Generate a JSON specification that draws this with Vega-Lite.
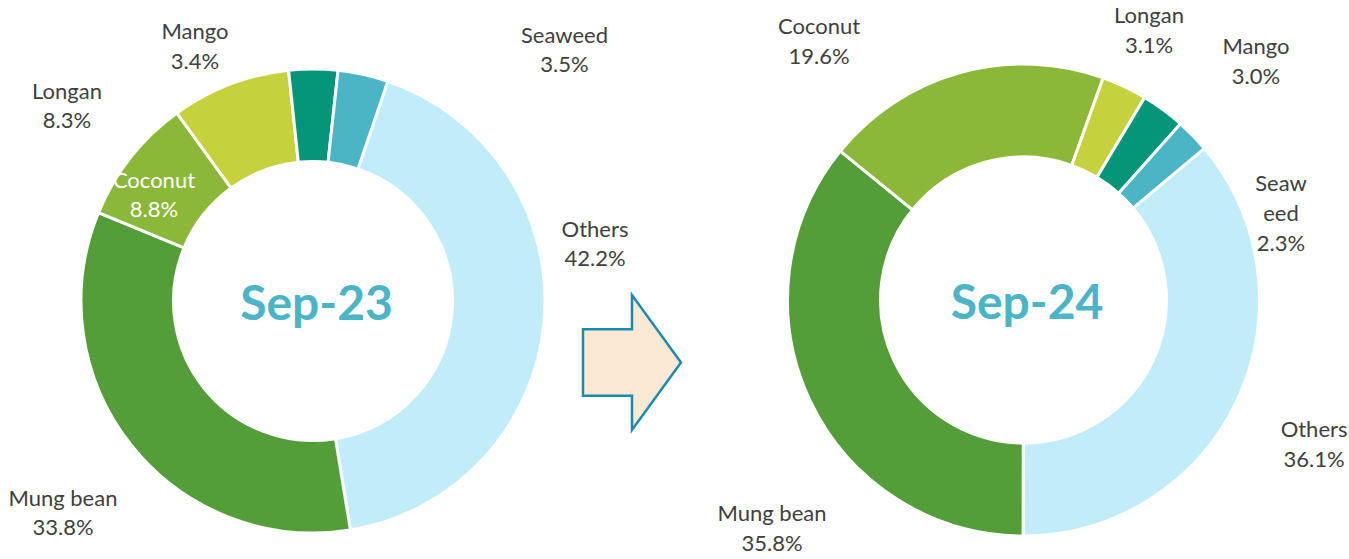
{
  "$schema": "https://vega.github.io/schema/vega-lite/v6.json",
  "width": 1349,
  "height": 559,
  "padding": 0,
  "autosize": {"type": "none"},
  "background": "#ffffff",
  "config": {
    "view": {"stroke": null},
    "text": {"font": "Lato", "fontSize": 22}
  },
  "data": {
    "values": [
      {"period": "Sep-23", "name": "Others", "share": 0.422, "rank": 1},
      {"period": "Sep-23", "name": "Mung bean", "share": 0.338, "rank": 2},
      {"period": "Sep-23", "name": "Coconut", "share": 0.088, "rank": 3},
      {"period": "Sep-23", "name": "Longan", "share": 0.083, "rank": 4},
      {"period": "Sep-23", "name": "Mango", "share": 0.034, "rank": 5},
      {"period": "Sep-23", "name": "Seaweed", "share": 0.035, "rank": 6},
      {"period": "Sep-24", "name": "Others", "share": 0.361, "rank": 1},
      {"period": "Sep-24", "name": "Mung bean", "share": 0.358, "rank": 2},
      {"period": "Sep-24", "name": "Coconut", "share": 0.196, "rank": 3},
      {"period": "Sep-24", "name": "Longan", "share": 0.031, "rank": 4},
      {"period": "Sep-24", "name": "Mango", "share": 0.030, "rank": 5},
      {"period": "Sep-24", "name": "Seaweed", "share": 0.023, "rank": 6}
    ]
  },
  "layer": [
    {
      "transform": [{"filter": {"field": "period", "equal": "Sep-23"}}],
      "layer": [
        {
          "encoding": {
            "theta": {"field": "share", "type": "quantitative", "stack": true, "scale": {"range": [0.3281, 6.6113]}},
            "order": {"field": "rank", "type": "quantitative"},
            "color": {
              "field": "name", "type": "nominal", "legend": null,
              "scale": {"domain": ["Others", "Mung bean", "Coconut", "Longan", "Mango", "Seaweed"],
                        "range": ["#C1ECFA", "#549E39", "#8CB83A", "#C5D13D", "#05967A", "#4BB5C6"]}
            }
          },
          "layer": [
            {"mark": {"type": "arc", "outerRadius": 232, "innerRadius": 139.5, "stroke": "#ffffff", "strokeWidth": 3, "xOffset": -361.5, "yOffset": 21.5}},
            {"mark": {"type": "text", "radius": 280.8, "thetaOffset": -0.4351, "xOffset": -361.5, "yOffset": 21.5, "dy": -13.9},
             "encoding": {"color": {"value": "#404040"}, "text": {"condition": {"test": "datum.name === 'Mango'", "field": "name", "type": "nominal"}, "value": ""}}},
            {"mark": {"type": "text", "radius": 280.8, "thetaOffset": -0.4351, "xOffset": -361.5, "yOffset": 21.5, "dy": 15.7},
             "encoding": {"color": {"value": "#404040"}, "text": {"condition": {"test": "datum.name === 'Mango'", "field": "share", "type": "quantitative", "format": ".1%"}, "value": ""}}},
            {"mark": {"type": "text", "radius": 355.7, "thetaOffset": 0.5672, "xOffset": -361.5, "yOffset": 21.5, "dy": -13.9},
             "encoding": {"color": {"value": "#404040"}, "text": {"condition": {"test": "datum.name === 'Seaweed'", "field": "name", "type": "nominal"}, "value": ""}}},
            {"mark": {"type": "text", "radius": 355.7, "thetaOffset": 0.5672, "xOffset": -361.5, "yOffset": 21.5, "dy": 15.7},
             "encoding": {"color": {"value": "#404040"}, "text": {"condition": {"test": "datum.name === 'Seaweed'", "field": "share", "type": "quantitative", "format": ".1%"}, "value": ""}}},
            {"mark": {"type": "text", "radius": 314.2, "thetaOffset": -0.5332, "xOffset": -361.5, "yOffset": 21.5, "dy": -13.9},
             "encoding": {"color": {"value": "#404040"}, "text": {"condition": {"test": "datum.name === 'Longan'", "field": "name", "type": "nominal"}, "value": ""}}},
            {"mark": {"type": "text", "radius": 314.2, "thetaOffset": -0.5332, "xOffset": -361.5, "yOffset": 21.5, "dy": 15.7},
             "encoding": {"color": {"value": "#404040"}, "text": {"condition": {"test": "datum.name === 'Longan'", "field": "share", "type": "quantitative", "format": ".1%"}, "value": ""}}},
            {"mark": {"type": "text", "radius": 191.4, "thetaOffset": -0.0773, "xOffset": -361.5, "yOffset": 21.5, "dy": -13.9},
             "encoding": {"color": {"value": "#ffffff"}, "text": {"condition": {"test": "datum.name === 'Coconut'", "field": "name", "type": "nominal"}, "value": ""}}},
            {"mark": {"type": "text", "radius": 191.4, "thetaOffset": -0.0773, "xOffset": -361.5, "yOffset": 21.5, "dy": 15.7},
             "encoding": {"color": {"value": "#ffffff"}, "text": {"condition": {"test": "datum.name === 'Coconut'", "field": "share", "type": "quantitative", "format": ".1%"}, "value": ""}}},
            {"mark": {"type": "text", "radius": 287.8, "thetaOffset": -0.2841, "xOffset": -361.5, "yOffset": 21.5, "dy": -13.9},
             "encoding": {"color": {"value": "#404040"}, "text": {"condition": {"test": "datum.name === 'Others'", "field": "name", "type": "nominal"}, "value": ""}}},
            {"mark": {"type": "text", "radius": 287.8, "thetaOffset": -0.2841, "xOffset": -361.5, "yOffset": 21.5, "dy": 15.7},
             "encoding": {"color": {"value": "#404040"}, "text": {"condition": {"test": "datum.name === 'Others'", "field": "share", "type": "quantitative", "format": ".1%"}, "value": ""}}},
            {"mark": {"type": "text", "radius": 327.5, "thetaOffset": -0.0312, "xOffset": -361.5, "yOffset": 21.5, "dy": -13.9},
             "encoding": {"color": {"value": "#404040"}, "text": {"condition": {"test": "datum.name === 'Mung bean'", "field": "name", "type": "nominal"}, "value": ""}}},
            {"mark": {"type": "text", "radius": 327.5, "thetaOffset": -0.0312, "xOffset": -361.5, "yOffset": 21.5, "dy": 15.7},
             "encoding": {"color": {"value": "#404040"}, "text": {"condition": {"test": "datum.name === 'Mung bean'", "field": "share", "type": "quantitative", "format": ".1%"}, "value": ""}}}
          ]
        },
        {
          "transform": [{"aggregate": [{"op": "count", "as": "n"}], "groupby": ["period"]}],
          "mark": {"type": "text", "fontSize": 48, "fontWeight": "bold", "color": "#4BB4C6", "xOffset": -361.5, "yOffset": 21.5, "dx": 3.5, "dy": 5},
          "encoding": {"text": {"field": "period", "type": "nominal"}}
        }
      ]
    },
    {
      "transform": [{"filter": {"field": "period", "equal": "Sep-24"}}],
      "layer": [
        {
          "encoding": {
            "theta": {"field": "share", "type": "quantitative", "stack": true, "scale": {"range": [0.8727, 7.1559]}},
            "order": {"field": "rank", "type": "quantitative"},
            "color": {
              "field": "name", "type": "nominal", "legend": null,
              "scale": {"domain": ["Others", "Mung bean", "Coconut", "Longan", "Mango", "Seaweed"],
                        "range": ["#C1ECFA", "#549E39", "#8CB83A", "#C5D13D", "#05967A", "#4BB5C6"]}
            }
          },
          "layer": [
            {"mark": {"type": "arc", "outerRadius": 236, "innerRadius": 143, "stroke": "#ffffff", "strokeWidth": 3, "xOffset": 349, "yOffset": 20.5}},
            {"mark": {"type": "text", "radius": 330, "thetaOffset": -0.396, "xOffset": 349, "yOffset": 20.5, "dy": -13.9},
             "encoding": {"color": {"value": "#404040"}, "text": {"condition": {"test": "datum.name === 'Coconut'", "field": "name", "type": "nominal"}, "value": ""}}},
            {"mark": {"type": "text", "radius": 330, "thetaOffset": -0.396, "xOffset": 349, "yOffset": 20.5, "dy": 15.7},
             "encoding": {"color": {"value": "#404040"}, "text": {"condition": {"test": "datum.name === 'Coconut'", "field": "share", "type": "quantitative", "format": ".1%"}, "value": ""}}},
            {"mark": {"type": "text", "radius": 297.7, "thetaOffset": -0.0065, "xOffset": 349, "yOffset": 20.5, "dy": -13.9},
             "encoding": {"color": {"value": "#404040"}, "text": {"condition": {"test": "datum.name === 'Longan'", "field": "name", "type": "nominal"}, "value": ""}}},
            {"mark": {"type": "text", "radius": 297.7, "thetaOffset": -0.0065, "xOffset": 349, "yOffset": 20.5, "dy": 15.7},
             "encoding": {"color": {"value": "#404040"}, "text": {"condition": {"test": "datum.name === 'Longan'", "field": "share", "type": "quantitative", "format": ".1%"}, "value": ""}}},
            {"mark": {"type": "text", "radius": 333.4, "thetaOffset": 0.138, "xOffset": 349, "yOffset": 20.5, "dy": -13.9},
             "encoding": {"color": {"value": "#404040"}, "text": {"condition": {"test": "datum.name === 'Mango'", "field": "name", "type": "nominal"}, "value": ""}}},
            {"mark": {"type": "text", "radius": 333.4, "thetaOffset": 0.138, "xOffset": 349, "yOffset": 20.5, "dy": 15.7},
             "encoding": {"color": {"value": "#404040"}, "text": {"condition": {"test": "datum.name === 'Mango'", "field": "share", "type": "quantitative", "format": ".1%"}, "value": ""}}},
            {"mark": {"type": "text", "radius": 271.7, "thetaOffset": 0.4458, "xOffset": 349, "yOffset": 20.5, "dy": -28.9},
             "encoding": {"color": {"value": "#404040"}, "text": {"condition": {"test": "datum.name === 'Seaweed'", "value": "Seaw"}, "value": ""}}},
            {"mark": {"type": "text", "radius": 271.7, "thetaOffset": 0.4458, "xOffset": 349, "yOffset": 20.5, "dy": 0.9},
             "encoding": {"color": {"value": "#404040"}, "text": {"condition": {"test": "datum.name === 'Seaweed'", "value": "eed"}, "value": ""}}},
            {"mark": {"type": "text", "radius": 271.7, "thetaOffset": 0.4458, "xOffset": 349, "yOffset": 20.5, "dy": 30.7},
             "encoding": {"color": {"value": "#404040"}, "text": {"condition": {"test": "datum.name === 'Seaweed'", "field": "share", "type": "quantitative", "format": ".1%"}, "value": ""}}},
            {"mark": {"type": "text", "radius": 324.4, "thetaOffset": 0.0237, "xOffset": 349, "yOffset": 20.5, "dy": -13.9},
             "encoding": {"color": {"value": "#404040"}, "text": {"condition": {"test": "datum.name === 'Others'", "field": "name", "type": "nominal"}, "value": ""}}},
            {"mark": {"type": "text", "radius": 324.4, "thetaOffset": 0.0237, "xOffset": 349, "yOffset": 20.5, "dy": 15.7},
             "encoding": {"color": {"value": "#404040"}, "text": {"condition": {"test": "datum.name === 'Others'", "field": "share", "type": "quantitative", "format": ".1%"}, "value": ""}}},
            {"mark": {"type": "text", "radius": 339.7, "thetaOffset": -0.2937, "xOffset": 349, "yOffset": 20.5, "dy": -13.9},
             "encoding": {"color": {"value": "#404040"}, "text": {"condition": {"test": "datum.name === 'Mung bean'", "field": "name", "type": "nominal"}, "value": ""}}},
            {"mark": {"type": "text", "radius": 339.7, "thetaOffset": -0.2937, "xOffset": 349, "yOffset": 20.5, "dy": 15.7},
             "encoding": {"color": {"value": "#404040"}, "text": {"condition": {"test": "datum.name === 'Mung bean'", "field": "share", "type": "quantitative", "format": ".1%"}, "value": ""}}}
          ]
        },
        {
          "transform": [{"aggregate": [{"op": "count", "as": "n"}], "groupby": ["period"]}],
          "mark": {"type": "text", "fontSize": 48, "fontWeight": "bold", "color": "#4BB4C6", "xOffset": 349, "yOffset": 20.5, "dx": 3.5, "dy": 5},
          "encoding": {"text": {"field": "period", "type": "nominal"}}
        }
      ]
    },
    {
      "data": {"values": [{"from": "Sep-23", "to": "Sep-24"}]},
      "mark": {
        "type": "point",
        "shape": "M-1,-0.68L0,-0.68L0,-1.378L1,0L0,1.378L0,0.68L-1,0.68Z",
        "size": 9604,
        "filled": true,
        "fill": "#FBE9D3",
        "stroke": "#1A8BB0",
        "strokeWidth": 2.5,
        "opacity": 1,
        "xOffset": -42.5,
        "yOffset": 83
      }
    }
  ],
  "resolve": {"scale": {"theta": "independent"}}
}
